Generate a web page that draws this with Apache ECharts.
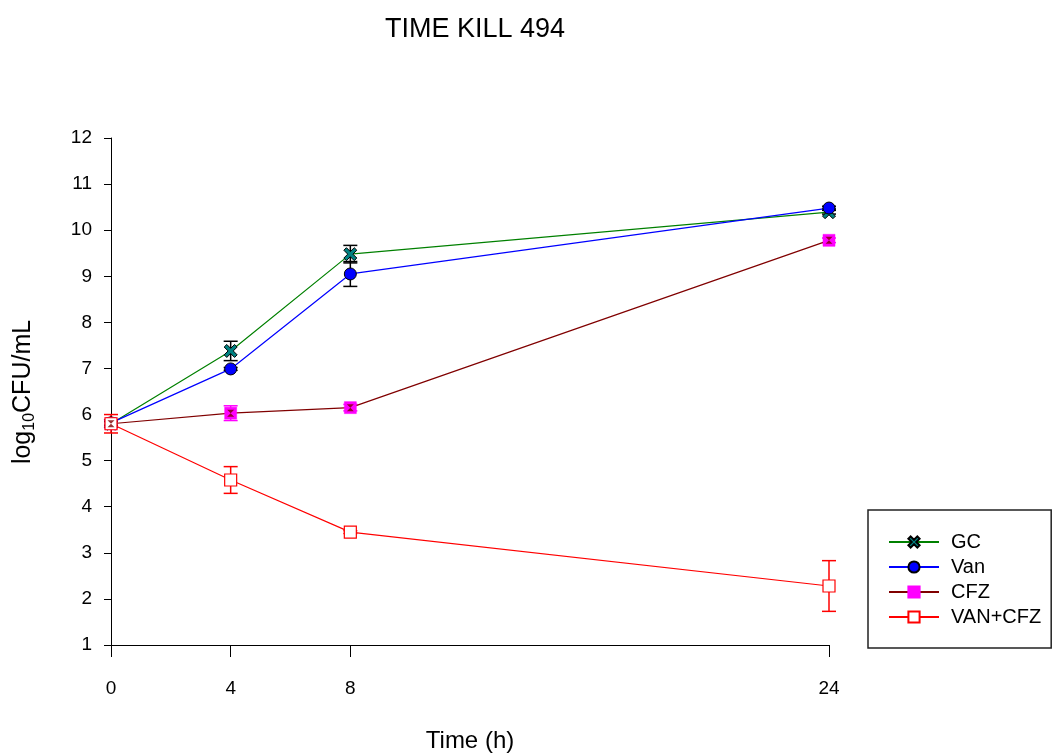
<!DOCTYPE html>
<html>
<head>
<meta charset="utf-8">
<script src="https://cdn.jsdelivr.net/npm/echarts@6/dist/echarts.min.js"></script>
<style>html,body{margin:0;padding:0;background:#fff}#c{width:1064px;height:756px}</style>
</head>
<body>
<div id="c"></div>
<script>
const times = [0, 4, 8, 24];
const xTicks = [0, 4, 8, 24];
const seriesNames = ['GC', 'Van', 'CFZ', 'VAN+CFZ'];
const gcVals = [5.8, 7.38, 9.48, 10.39];
const gcErr = [0.05, 0.21, 0.19, 0.04];
const vanVals = [5.82, 6.99, 9.05, 10.48];
const vanErr = [0.05, 0.03, 0.27, 0.04];
const cfzVals = [5.8, 6.03, 6.15, 9.78];
const cfzErr = [0.08, 0.16, 0.07, 0.05];
const vcVals = [5.8, 4.58, 3.45, 2.28];
const vcErr = [0.2, 0.29, 0.03, 0.55];

const font = 'Liberation Sans, Arial, sans-serif';
const pts = v => times.map((t, i) => [t, v[i]]);
const errData = (v, e) => times.map((t, i) => [t, v[i] - e[i], v[i] + e[i]]);

function errSeries(v, e, color) {
  return {
    type: 'custom',
    data: errData(v, e),
    encode: { x: 0, y: [1, 2] },
    silent: true,
    z: 3,
    renderItem: function (params, api) {
      const lo = api.coord([api.value(0), api.value(1)]);
      const hi = api.coord([api.value(0), api.value(2)]);
      const w = 7;
      const st = { stroke: color, lineWidth: 1.5 };
      return {
        type: 'group',
        children: [
          { type: 'line', shape: { x1: lo[0], y1: lo[1], x2: hi[0], y2: hi[1] }, style: st },
          { type: 'line', shape: { x1: lo[0] - w, y1: lo[1], x2: lo[0] + w, y2: lo[1] }, style: st },
          { type: 'line', shape: { x1: hi[0] - w, y1: hi[1], x2: hi[0] + w, y2: hi[1] }, style: st }
        ]
      };
    }
  };
}

const crossPath = 'path://M2,0 L5,3 L8,0 L10,2 L7,5 L10,8 L8,10 L5,7 L2,10 L0,8 L3,5 L0,2 Z';
const hourglassPath = 'path://M0,0 L10,0 L5,5 L10,10 L0,10 L5,5 Z';

const chart = echarts.init(document.getElementById('c'));
chart.setOption({
  animation: false,
  title: {
    text: 'TIME KILL 494', left: 470, top: 11, textAlign: 'center',
    textStyle: { fontFamily: font, fontSize: 27, fontWeight: 'normal', color: '#000' }
  },
  grid: { left: 111, top: 138, width: 718, height: 507, containLabel: false, outerBoundsMode: 'none' },
  xAxis: {
    type: 'value', min: 0, max: 24,
    name: 'Time (h)', nameLocation: 'middle', nameGap: 84,
    nameTextStyle: { fontFamily: font, fontSize: 24, color: '#000' },
    axisLine: { show: true, lineStyle: { color: '#000', width: 1 } },
    axisTick: { show: true, length: 12, customValues: xTicks, lineStyle: { color: '#000' } },
    axisLabel: { customValues: xTicks, margin: 34, fontFamily: font, fontSize: 19, color: '#000' },
    splitLine: { show: false }
  },
  yAxis: {
    type: 'value', min: 1, max: 12, interval: 1,
    axisLine: { show: true, lineStyle: { color: '#000', width: 1 } },
    axisTick: { show: true, length: 7, lineStyle: { color: '#000' } },
    axisLabel: { margin: 19, fontFamily: font, fontSize: 19, color: '#000' },
    splitLine: { show: false }
  },
  graphic: [{
    type: 'text', x: 23, y: 392, rotation: Math.PI / 2, originX: 0, originY: 0,
    style: {
      text: '{a|log}{b|10}{a|CFU/mL}',
      align: 'center', verticalAlign: 'middle',
      rich: {
        a: { fontFamily: font, fontSize: 25, color: '#000' },
        b: { fontFamily: font, fontSize: 16, color: '#000', verticalAlign: 'bottom', padding: [14, 0, 0, 0] }
      }
    }
  }],
  legend: {
    orient: 'vertical', left: 868, top: 510,
    padding: [22, 10, 21, 20],
    itemWidth: 50, itemHeight: 14, itemGap: 5,
    borderColor: '#222', borderWidth: 1.5,
    backgroundColor: '#fff',
    data: seriesNames,
    textStyle: { fontFamily: font, fontSize: 20, lineHeight: 20, color: '#000', padding: [0, 0, 0, 7] }
  },
  series: [
    errSeries(gcVals, gcErr, '#000'),
    errSeries(vanVals, vanErr, '#000'),
    errSeries(cfzVals, cfzErr, '#ff00ff'),
    errSeries(vcVals, vcErr, '#ff0000'),
    {
      name: 'GC', type: 'line', data: pts(gcVals), z: 5,
      lineStyle: { color: '#008000', width: 1.2 },
      itemStyle: { color: '#008080', borderColor: '#000', borderWidth: 1 },
      symbol: crossPath, symbolSize: 13, showAllSymbol: true
    },
    {
      name: 'Van', type: 'line', data: pts(vanVals), z: 5,
      lineStyle: { color: '#0000ff', width: 1.2 },
      itemStyle: { color: '#0000ff', borderColor: '#000', borderWidth: 1 },
      symbol: 'circle', symbolSize: 12
    },
    {
      name: 'CFZ', type: 'line', data: pts(cfzVals), z: 5,
      lineStyle: { color: '#800000', width: 1.2 },
      itemStyle: { color: '#ff00ff', borderColor: '#ff00ff', borderWidth: 0.5 },
      symbol: 'rect', symbolSize: 12
    },
    {
      type: 'scatter', data: pts(cfzVals), z: 6, silent: true,
      symbol: hourglassPath, symbolSize: 7,
      itemStyle: { color: '#800000' }
    },
    {
      name: 'VAN+CFZ', type: 'line', data: pts(vcVals), z: 5,
      lineStyle: { color: '#ff0000', width: 1.2 },
      itemStyle: { color: '#ffffff', borderColor: '#ff0000', borderWidth: 1.2 },
      symbol: 'rect', symbolSize: 12
    }
  ]
});
</script>
</body>
</html>
